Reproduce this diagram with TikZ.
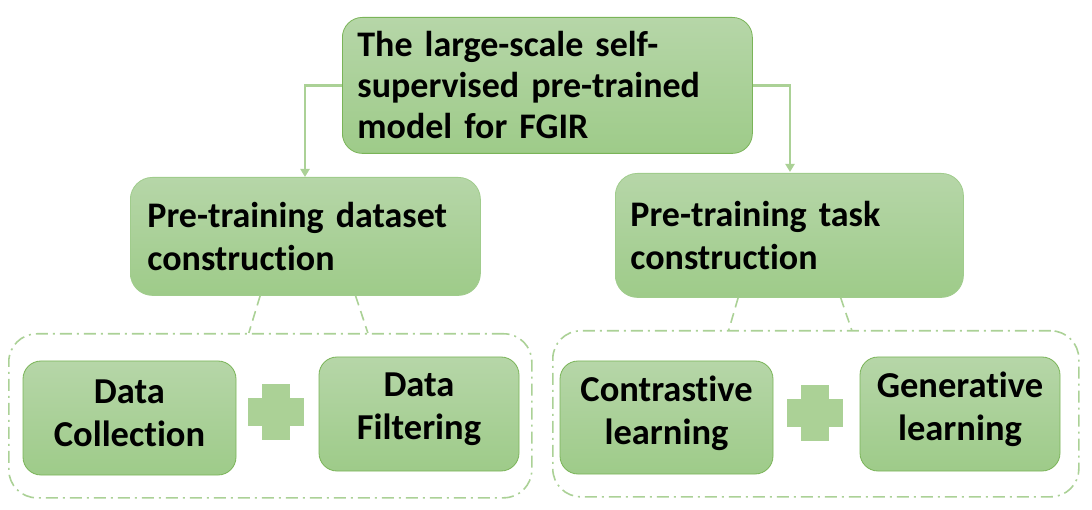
\documentclass[tikz,border=0pt]{standalone}
\usepackage{fontspec}
\setmainfont{Carlito}[Ligatures={NoCommon}]
\usetikzlibrary{arrows.meta,calc}
\definecolor{gtop}{RGB}{182,214,168}
\definecolor{gbot}{RGB}{158,203,137}
\definecolor{gline}{RGB}{122,180,88}
\definecolor{gsoft}{RGB}{160,204,140}
\definecolor{glight}{RGB}{171,209,150}
\begin{document}
\begin{tikzpicture}[x=1pt,y=-1pt,
  box/.style={draw=gline, line width=0.8pt, rounded corners=20pt, top color=gtop, bottom color=gbot,
    font=\fontsize{36}{41}\selectfont\bfseries, inner sep=0pt, anchor=north west},
  midbox/.style={box, draw=gsoft, rounded corners=22pt, font=\fontsize{36}{43}\selectfont\bfseries},
  leafbox/.style={box, rounded corners=18pt, align=center, anchor=center,
    font=\fontsize{36.5}{43}\selectfont\bfseries, execute at end node={\endgraf\vspace*{9pt}}},
  groupbox/.style={draw=glight, line width=1.6pt, rounded corners=28pt, inner sep=0pt, anchor=north west,
    dash pattern=on 12pt off 5pt on 2pt off 5pt},
  conn/.style={draw=glight, line width=2.6pt, -{Triangle[width=9pt,length=8pt]}},
  link/.style={draw=glight, line width=1.6pt, dash pattern=on 10pt off 6pt},
  plusbar/.style={fill=glight, inner sep=0pt, draw=none}]
\useasboundingbox (0,0) rectangle (1092,510);
% top
\node[box, minimum width=410pt, minimum height=136pt, text width=380pt, align=left] (top) at (342,17)
  {The large-scale self-\\supervised pre-trained\\model for FGIR};
% middle
\node[midbox, minimum width=350pt, minimum height=118pt, text width=316pt, align=left] (mleft) at (130,177)
  {Pre-training dataset\\construction};
\node[midbox, minimum width=348pt, minimum height=124pt, text width=318pt, align=left] (mright) at (615,173)
  {Pre-training task\\construction};
% arrows
\draw[conn] (top.west) -| ($(mleft.north west)+(175,0)$);
\draw[conn] (top.east) -| ($(mright.north west)+(175,-1)$);
% groups
\node[groupbox, minimum width=523pt, minimum height=164pt] (lgroup) at (8,333) {};
\node[groupbox, minimum width=526pt, minimum height=166pt] (rgroup) at (552,330) {};
% dashed links
\draw[link] ($(mleft.south west)!0.371!(mleft.south east)$) -- ($(lgroup.north west)!0.459!(lgroup.north east)$);
\draw[link] ($(mleft.south west)!0.643!(mleft.south east)$) -- ($(lgroup.north west)!0.686!(lgroup.north east)$);
\draw[link] ($(mright.south west)!0.353!(mright.south east)$) -- ($(rgroup.north west)!0.335!(rgroup.north east)$);
\draw[link] ($(mright.south west)!0.647!(mright.south east)$) -- ($(rgroup.north west)!0.568!(rgroup.north east)$);
% leaves
\node[leafbox, minimum width=213pt, minimum height=114pt, text width=213pt] (dc) at (129.5,418) {Data\\Collection};
\node[leafbox, minimum width=200pt, minimum height=114pt, text width=200pt] (df) at (419,414) {Data\\Filtering};
\node[leafbox, minimum width=213pt, minimum height=113pt, text width=213pt] (cl) at (666.5,417.5) {Contrastive\\learning};
\node[leafbox, minimum width=200pt, minimum height=114pt, text width=200pt] (gl) at (960,414) {Generative\\learning};
% plus signs
\node[plusbar, minimum width=56pt, minimum height=28pt] (p1h) at (276,412) {};
\node[plusbar, minimum width=28pt, minimum height=56pt] (p1v) at (276,412) {};
\node[plusbar, minimum width=56pt, minimum height=28pt] (p2h) at (815,413) {};
\node[plusbar, minimum width=28pt, minimum height=56pt] (p2v) at (815,413) {};
\end{tikzpicture}
\end{document}
